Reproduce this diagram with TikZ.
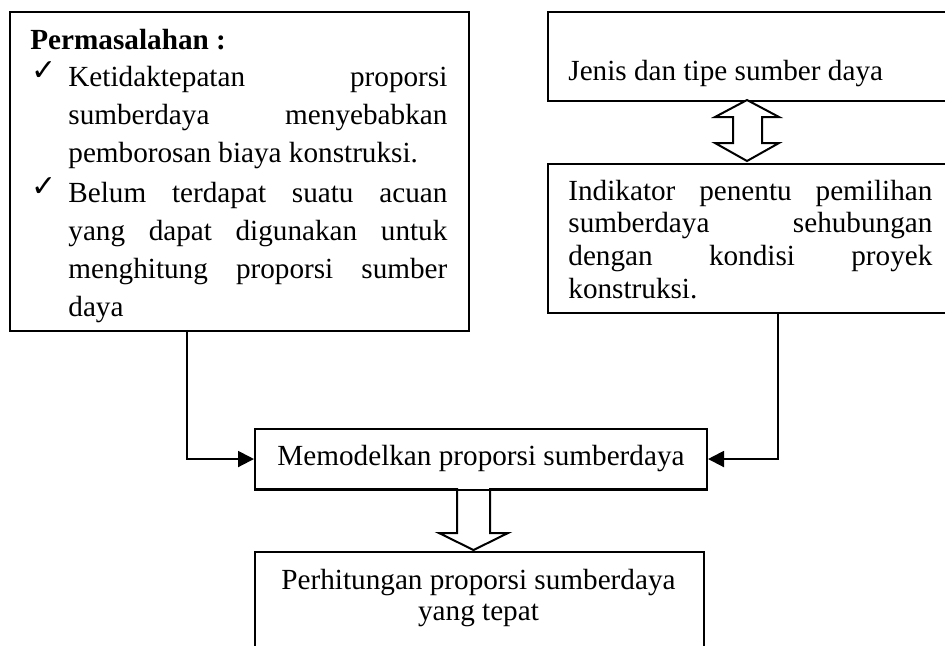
\documentclass[tikz,border=0pt]{standalone}
\usepackage{fontspec}
\setmainfont{Liberation Serif}
\newfontfamily\symfont{DejaVu Sans}
\usetikzlibrary{arrows.meta}
\begin{document}
\begin{tikzpicture}[x=0.5pt,y=-0.5pt,
  box/.style={draw, line width=1pt, inner sep=0pt, anchor=north west},
  txt/.style={inner sep=0pt, anchor=base west, font=\fontsize{14.6pt}{19.15pt}\selectfont},
  para/.style={txt, align=justify},
  chk/.style={inner sep=0pt, anchor=base west, font=\symfont\fontsize{15pt}{16pt}\selectfont},
  conn/.style={line width=1pt, -{Triangle[length=8pt,width=8pt]}},
  hollow/.style={draw, line width=1pt, fill=white, line join=miter}]
\clip (0,0) rectangle (945,645);
\fill[white] (0,0) rectangle (945,645);

% boxes
\node[box, minimum width=229.5pt, minimum height=159.5pt] (prob) at (9,11) {};
\node[box, minimum width=206.5pt, minimum height=44.5pt] (jenis) at (547,11) {};
\node[box, minimum width=206.5pt, minimum height=74.5pt] (indik) at (547,163) {};
\node[box, minimum width=226pt, minimum height=30pt] (model) at (254,428) {};
\node[box, minimum width=224.5pt, minimum height=74.5pt] (hitung) at (254,551) {};

% texts
\node[txt, font=\bfseries\fontsize{14.6pt}{19.15pt}\selectfont] (ptitle) at (30,49) {Permasalahan :};
\node[chk] (c1) at (31,80) {✓};
\node[chk] (c2) at (31,196) {✓};
\node[para, text width=189.5pt] (p1) at (68,86)
  {\hyphenpenalty=10000 \tolerance=10000 \noindent Ketidaktepatan proporsi\linebreak sumberdaya menyebabkan\linebreak pemborosan biaya konstruksi.};
\node[para, text width=189.5pt] (p2) at (68,202)
  {\hyphenpenalty=10000 \tolerance=10000 \noindent Belum terdapat suatu acuan\linebreak yang dapat digunakan untuk\linebreak menghitung proporsi sumber\linebreak daya};
\node[txt] (tjenis) at (568,80) {Jenis dan tipe sumber daya};
\node[para, text width=182pt, font=\fontsize{14.6pt}{16.4pt}\selectfont] (tindik) at (568,200)
  {\hyphenpenalty=10000 \tolerance=10000 \noindent Indikator penentu pemilihan\linebreak sumberdaya sehubungan\linebreak dengan kondisi proyek\linebreak konstruksi.};
\node[inner sep=0pt, font=\fontsize{14.6pt}{19pt}\selectfont] (tmodel) at (model.center) {Memodelkan proporsi sumberdaya};
\node[inner sep=0pt, anchor=base, align=center, font=\fontsize{14.6pt}{15.5pt}\selectfont] (thitung) at (478.5,620)
  {Perhitungan proporsi sumberdaya\\yang tepat};

% connectors
\coordinate (pl) at (187,0);
\coordinate (pr) at (778,0);
\draw[conn] (prob.south -| pl) |- (model.west);
\draw[conn] (indik.south -| pr) |- (model.east);

% hollow double arrow
\draw[hollow] (747,100) -- (779,117) -- (762,117) -- (762,143) -- (779,143) -- (747,161)
  -- (715,143) -- (733,143) -- (733,117) -- (715,117) -- cycle;

% hollow down arrow
\draw[hollow] (457,488) -- (457,533) -- (439,533) -- (473.5,550) -- (508,533) -- (490,533) -- (490,488);
\draw[line width=1pt] (model.south west) -- (model.south east);
\end{tikzpicture}
\end{document}
